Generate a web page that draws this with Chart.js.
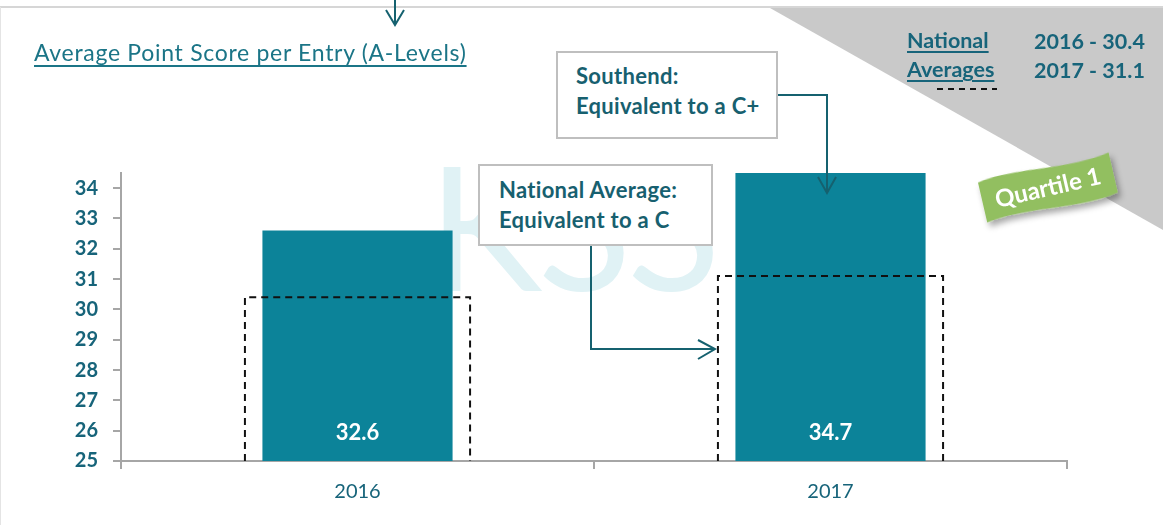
<!DOCTYPE html>
<html>
<head>
<meta charset="utf-8">
<script src="https://cdn.jsdelivr.net/npm/chart.js@4/dist/chart.umd.min.js"></script>
<style>
  html, body { margin: 0; padding: 0; background: #fff; }
  #wrap { position: relative; width: 1163px; height: 525px; overflow: hidden; font-family: Lato, "Open Sans", sans-serif; }
  #wrap > * { position: absolute; }
  #bg, #fg { left: 0; top: 0; }
  #watermark { left: 428px; top: 139px; font-size: 172px; font-weight: 400; color: #e0f2f5; line-height: 1; letter-spacing: -4px; }
  #chart { left: 0; top: 0; }
  .title { left: 34px; top: 38px; font-size: 23px; letter-spacing: 0.7px; color: #1b7587; text-decoration: underline; text-underline-offset: 4px; white-space: nowrap; }
  .callout { background: #fff; border: 2px solid #bfbfbf; box-sizing: border-box; font-weight: 700; font-size: 22px; letter-spacing: 0.3px; color: #17606f; line-height: 30px; white-space: nowrap; }
  .legend { font-weight: 700; font-size: 21.5px; color: #17647a; line-height: 29px; white-space: nowrap; }
  .legend u { text-underline-offset: 3px; }
</style>
</head>
<body>
<div id="wrap">
  <svg id="bg" width="1163" height="525">
    <polygon points="770,8 1163,8 1163,230" fill="#c9c9c9"/>
    <line x1="0" y1="7" x2="1163" y2="7" stroke="#d6d6d6" stroke-width="2"/>
    <line x1="0.5" y1="7" x2="0.5" y2="525" stroke="#e4e4e4" stroke-width="1"/>
  </svg>
  <div id="watermark">KSS</div>
  <canvas id="chart" width="1163" height="525"></canvas>
  <svg id="fg" width="1163" height="525">
    <defs>
      <filter id="shadow" x="-20%" y="-40%" width="140%" height="190%">
        <feDropShadow dx="2" dy="5" stdDeviation="3" flood-color="#000" flood-opacity="0.35"/>
      </filter>
    </defs>
    <g fill="none" stroke="#15616f" stroke-width="2">
      <polyline points="395,0 395,24"/>
      <polyline points="386,10 395,25 404,10"/>
      <polyline points="778,95 827,95 827,192"/>
      <polyline points="818,177 827,193 836,177"/>
      <polyline points="591,246 591,349 714,349"/>
      <polyline points="698,340 715,349 698,359"/>
    </g>
    <g transform="translate(1048,188) rotate(-13)">
      <path d="M-67,-21 C-30,-28 20,-13 67,-21 L67,20 C25,28 -25,13 -67,20 Z" fill="#92bf60" filter="url(#shadow)"/>
      <text x="0" y="8" text-anchor="middle" font-family="Lato, sans-serif" font-weight="700" font-size="24" fill="#fff">Quartile 1</text>
    </g>
  </svg>
  <div class="title">Average Point Score per Entry (A-Levels)</div>
  <div class="callout" style="left:556px;top:51px;width:222px;height:88px;padding:8px 0 0 18px;">Southend:<br>Equivalent to a C+</div>
  <div class="callout" style="left:478px;top:164px;width:235px;height:82px;padding:9px 0 0 19px;">National Average:<br>Equivalent to a C</div>
  <div class="legend" style="left:907px;top:26px;"><u>National</u><br><u>Averages</u></div>
  <div class="legend" style="left:1034px;top:27px;">2016 - 30.4<br>2017 - 31.1</div>
  <svg style="left:930px;top:84px;" width="80" height="10">
    <line x1="7" y1="5" x2="67" y2="5" stroke="#111" stroke-width="2" stroke-dasharray="6,5"/>
  </svg>
</div>
<script>
"use strict";

// Chart values
const YEARS = ["2016", "2017"];
const SOUTHEND = [32.6, 34.7];
const NATIONAL = [30.4, 31.1];
const Y_TICKS = [25, 26, 27, 28, 29, 30, 31, 32, 33, 34];

const TEAL = "#0c8399";
const TEXT = "#17647a";
const AXIS = "#a6a6a6";

// Dashed outlines for the national average + white value labels
const overlayPlugin = {
  id: "overlay",
  afterDatasetsDraw(chart) {
    const ctx = chart.ctx;
    const bottom = chart.chartArea.bottom;
    const nat = chart.getDatasetMeta(1).data;
    ctx.save();
    ctx.strokeStyle = "#111";
    ctx.lineWidth = 2;
    ctx.setLineDash([7, 5]);
    nat.forEach(el => {
      const l = el.x - el.width / 2, r = el.x + el.width / 2;
      const b = Math.min(el.base, bottom);
      ctx.beginPath();
      ctx.moveTo(l, b);
      ctx.lineTo(l, el.y);
      ctx.lineTo(r, el.y);
      ctx.lineTo(r, b);
      ctx.stroke();
    });
    ctx.setLineDash([]);
    ctx.fillStyle = "#fff";
    ctx.font = "bold 22px Lato, sans-serif";
    ctx.textAlign = "center";
    ctx.textBaseline = "middle";
    chart.getDatasetMeta(0).data.forEach((el, i) => {
      ctx.fillText(SOUTHEND[i].toFixed(1), el.x, Math.min(el.base, bottom) - 28);
    });
    ctx.restore();
  },
};

new Chart(document.getElementById("chart"), {
  type: "bar",
  data: {
    labels: YEARS,
    datasets: [
      {
        label: "Southend",
        data: SOUTHEND,
        backgroundColor: TEAL,
        grouped: false,
        categoryPercentage: 1,
        barPercentage: 0.402,
        order: 1,
      },
      {
        label: "National",
        data: NATIONAL,
        backgroundColor: "rgba(0,0,0,0)",
        borderWidth: 0,
        grouped: false,
        categoryPercentage: 1,
        barPercentage: 0.476,
        order: 2,
      },
    ],
  },
  options: {
    responsive: false,
    animation: false,
    layout: { padding: { top: 173, right: 96, left: 0, bottom: 0 } },
    plugins: { legend: { display: false }, tooltip: { enabled: false } },
    scales: {
      x: {
        grid: { offset: true, drawOnChartArea: false, tickLength: 8, color: AXIS, lineWidth: 2 },
        border: { color: AXIS, width: 2 },
        ticks: { color: TEXT, font: { family: "Lato", size: 20 }, padding: 11 },
        afterFit: (s) => { s.height = 64; },
      },
      y: {
        min: 25,
        max: 34.5,
        afterBuildTicks: (s) => { s.ticks = Y_TICKS.map(v => ({ value: v })); },
        grid: { drawOnChartArea: false, tickLength: 8, color: AXIS, lineWidth: 2 },
        border: { color: AXIS, width: 2 },
        ticks: { color: TEXT, font: { family: "Lato", size: 20, weight: "bold" }, padding: 15 },
        afterFit: (s) => { s.width = 121; },
      },
    },
  },
  plugins: [overlayPlugin],
});
</script>
</body>
</html>
